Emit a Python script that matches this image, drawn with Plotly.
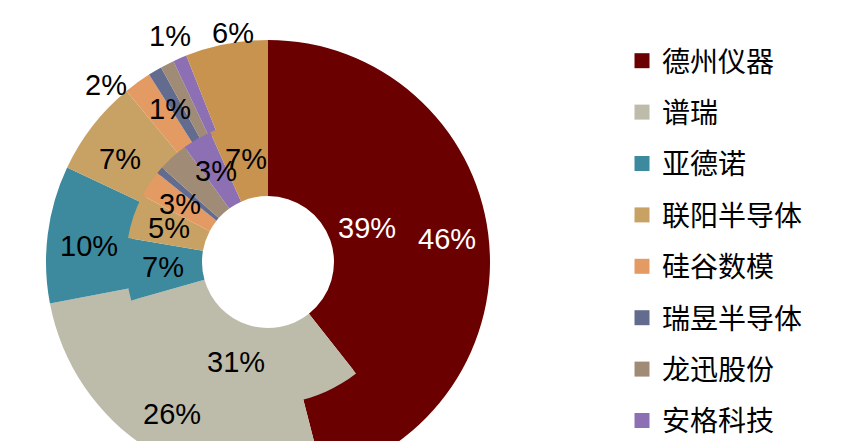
import numpy as np
import plotly.graph_objects as go

# ---------------- data ----------------
companies = ["德州仪器", "谱瑞", "亚德诺", "联阳半导体", "硅谷数模",
             "瑞昱半导体", "龙迅股份", "安格科技", "其他"]
outer_share = [46, 26, 10, 7, 2, 1, 1, 1, 6]
inner_share = [39, 31, 7, 5, 3, 0.8, 3.4, 3.3, 6.6]
legend_names = companies[:8]

# ---------------- style ----------------
colors = ["#6B0000", "#BDBBAA", "#3D8A9E", "#C8A264", "#E49A63",
          "#636C8E", "#A08C76", "#8D70B3", "#C8934F"]
outer_show = [True, True, True, True, True, True, False, True, True]
inner_show = [True, True, True, True, True, False, False, True, True]
outer_label_r = [180, 180, 180, 180, 240, 182, 180, 246, 232]
outer_label_da = [0, 0, -2, -3, -6.6, -2, 0, 0, 2]
inner_label_r = [105] * 9
label_color = ["white"] + ["black"] * 8

W, H = 856, 490
CX, CY = 260, 254
R_OUT, R_OUTHOLE, R_MID, R_HOLE = 222, 138, 142, 66

def domain(r):
    return dict(x=[(CX - r) / W, (CX + r) / W],
                y=[1 - (CY + r) / H, 1 - (CY - r) / H])

fig = go.Figure()
fig.add_trace(go.Pie(labels=companies, values=outer_share, sort=False,
                     direction="clockwise", rotation=0,
                     hole=R_OUTHOLE / R_OUT, domain=domain(R_OUT),
                     marker=dict(colors=colors, line=dict(width=0)),
                     textinfo="none", showlegend=False, hoverinfo="label+percent"))
fig.add_trace(go.Pie(labels=companies, values=inner_share, sort=False,
                     direction="clockwise", rotation=0,
                     hole=R_HOLE / R_MID, domain=domain(R_MID),
                     marker=dict(colors=colors, line=dict(width=0)),
                     textinfo="none", showlegend=False, hoverinfo="label+percent"))

def add_labels(values, show, radii, dangle):
    v = np.array(values, dtype=float)
    pct = v / v.sum()
    mid = (np.cumsum(pct) - pct / 2) * 360
    for i in range(len(v)):
        if not show[i]:
            continue
        a = np.deg2rad(mid[i] + dangle[i])
        px = CX + radii[i] * np.sin(a)
        py = CY - radii[i] * np.cos(a)
        fig.add_annotation(x=px / W, y=1 - py / H, xref="paper", yref="paper",
                           text=f"{values[i]:.0f}%", showarrow=False,
                           xanchor="center", yanchor="middle",
                           font=dict(family="Liberation Sans, Arial", size=29,
                                     color=label_color[i]))

add_labels(outer_share, outer_show, outer_label_r, outer_label_da)
add_labels(inner_share, inner_show, inner_label_r, [0] * 9)

for name, c in zip(legend_names, colors):
    fig.add_trace(go.Scatter(x=[None], y=[None], mode="markers", name=name,
                             legendgroup=name,
                             marker=dict(symbol="square", size=15, color=c)))

fig.update_layout(
    width=W, height=H, margin=dict(l=0, r=0, t=0, b=0),
    paper_bgcolor="white", plot_bgcolor="white", template=None,
    xaxis=dict(visible=False), yaxis=dict(visible=False),
    legend=dict(x=614 / W, y=1 - 28 / H, xanchor="left", yanchor="top",
                font=dict(family="Noto Sans CJK SC", size=28, color="black"),
                tracegroupgap=12, bgcolor="rgba(0,0,0,0)"),
)
fig.write_html("out.html")
